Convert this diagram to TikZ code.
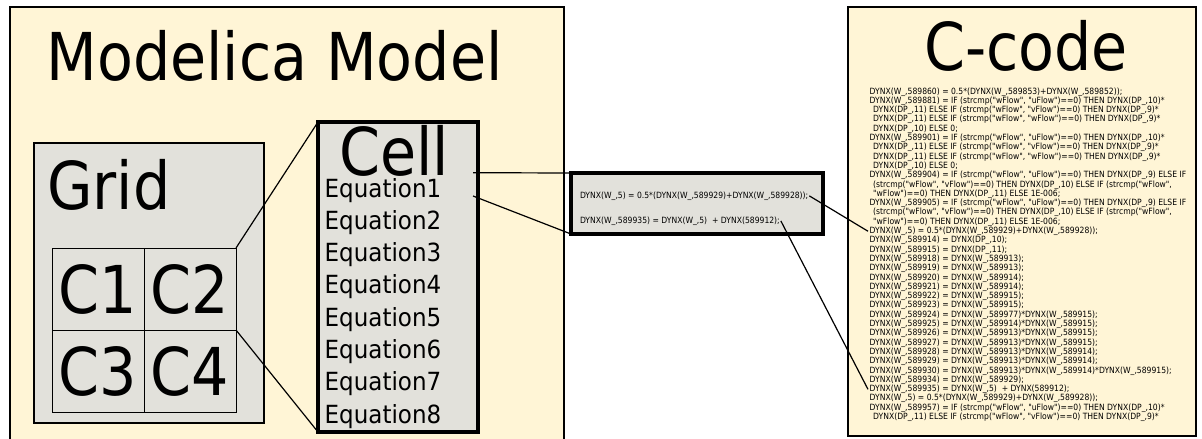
\documentclass[tikz,border=0pt]{standalone}
\usepackage{fontspec}
\setmainfont{DejaVu Sans}[FakeStretch=0.89]
\newfontfamily\eqfont{DejaVu Sans}[FakeStretch=0.92]
\newfontfamily\codefont{DejaVu Sans}[FakeStretch=0.89]
\definecolor{cream}{RGB}{255,245,214}
\definecolor{panelgray}{RGB}{226,225,219}
\tikzset{
  panel/.style={draw=black, fill=cream, line width=2pt, anchor=north west, inner sep=0pt, outer sep=0pt},
  graybox/.style={draw=black, fill=panelgray, anchor=north west, inner sep=0pt, outer sep=0pt},
  gridcell/.style={draw=black, line width=0.9pt, minimum width=92pt, minimum height=82pt,
    inner sep=0pt, outer sep=0pt, anchor=north west, font=\fontsize{66}{66}\selectfont},
  bigtext/.style={font=\fontsize{66}{66}\selectfont, inner sep=0pt},
  eqtext/.style={font=\eqfont\fontsize{25}{25}\selectfont, inner sep=0pt, anchor=base west},
  snippettext/.style={font=\codefont\fontsize{8.6}{8.6}\selectfont, inner sep=0.8pt, anchor=base west},
  codetext/.style={font=\codefont\fontsize{8.6}{8.6}\selectfont, inner sep=1.5pt, anchor=base west},
  link/.style={draw=black, line width=1.2pt},
}
% one line of generated code: #1 = line number, #2 = indent, #3 = text
\newcommand\codeline[3]{%
  \node[codetext] (r#1) at ({868+#2},{94+9.3*(#1-1)}) {#3};}
\begin{document}
\begin{tikzpicture}[x=1pt,y=-1pt]
\clip (0,0) rectangle (1202,439);

% ---------------- Modelica model panel ----------------
\node[panel, minimum width=554pt, minimum height=445pt] (model) at (10,7) {};
\node[bigtext, anchor=base] (modeltitle) at (274.5,80) {Modelica Model};

\node[graybox, line width=2pt, minimum width=230pt, minimum height=280pt] (grid) at (34.4,143) {};
\node[bigtext, anchor=base west] (gridtitle) at (47,209) {Grid};

\node[gridcell] (c1) at (52,248) {C1};
\node[gridcell] (c2) at (c1.north east) {C2};
\node[gridcell] (c3) at (c1.south west) {C3};
\node[gridcell] (c4) at (c3.north east) {C4};

\node[graybox, line width=4pt, minimum width=160pt, minimum height=310pt] (cell) at (318,122) {};
\node[bigtext, anchor=base] (celltitle) at (394,175) {Cell};
\foreach \k in {1,...,8}
  \node[eqtext] (eq\k) at (324.5,{197+32.3*(\k-1)}) {Equation\k};

% zoom lines from the grid to the cell
\draw[link] (c2.north east) -- (cell.north west);
\draw[link] (c4.north east) -- (cell.south west);

% ---------------- C-code panel ----------------
\node[panel, line width=2.5pt, minimum width=348pt, minimum height=429pt] (ccode) at (848,7) {};
\node[bigtext, anchor=base] (ccodetitle) at (1026,70) {C-code};

\codeline{1}{0}{DYNX(W\_,589860) = 0.5*(DYNX(W\_,589853)+DYNX(W\_,589852));}
\codeline{2}{0}{DYNX(W\_,589881) = IF (strcmp("wFlow", "uFlow")==0) THEN DYNX(DP\_,10)*}
\codeline{3}{3.5}{DYNX(DP\_,11) ELSE IF (strcmp("wFlow", "vFlow")==0) THEN DYNX(DP\_,9)*}
\codeline{4}{3.5}{DYNX(DP\_,11) ELSE IF (strcmp("wFlow", "wFlow")==0) THEN DYNX(DP\_,9)*}
\codeline{5}{3.5}{DYNX(DP\_,10) ELSE 0;}
\codeline{6}{0}{DYNX(W\_,589901) = IF (strcmp("wFlow", "uFlow")==0) THEN DYNX(DP\_,10)*}
\codeline{7}{3.5}{DYNX(DP\_,11) ELSE IF (strcmp("wFlow", "vFlow")==0) THEN DYNX(DP\_,9)*}
\codeline{8}{3.5}{DYNX(DP\_,11) ELSE IF (strcmp("wFlow", "wFlow")==0) THEN DYNX(DP\_,9)*}
\codeline{9}{3.5}{DYNX(DP\_,10) ELSE 0;}
\codeline{10}{0}{DYNX(W\_,589904) = IF (strcmp("wFlow", "uFlow")==0) THEN DYNX(DP\_,9) ELSE IF}
\codeline{11}{3.5}{(strcmp("wFlow", "vFlow")==0) THEN DYNX(DP\_,10) ELSE IF (strcmp("wFlow",}
\codeline{12}{3.5}{"wFlow")==0) THEN DYNX(DP\_,11) ELSE 1E-006;}
\codeline{13}{0}{DYNX(W\_,589905) = IF (strcmp("wFlow", "uFlow")==0) THEN DYNX(DP\_,9) ELSE IF}
\codeline{14}{3.5}{(strcmp("wFlow", "vFlow")==0) THEN DYNX(DP\_,10) ELSE IF (strcmp("wFlow",}
\codeline{15}{3.5}{"wFlow")==0) THEN DYNX(DP\_,11) ELSE 1E-006;}
\codeline{16}{0}{DYNX(W\_,5) = 0.5*(DYNX(W\_,589929)+DYNX(W\_,589928));}
\codeline{17}{0}{DYNX(W\_,589914) = DYNX(DP\_,10);}
\codeline{18}{0}{DYNX(W\_,589915) = DYNX(DP\_,11);}
\codeline{19}{0}{DYNX(W\_,589918) = DYNX(W\_,589913);}
\codeline{20}{0}{DYNX(W\_,589919) = DYNX(W\_,589913);}
\codeline{21}{0}{DYNX(W\_,589920) = DYNX(W\_,589914);}
\codeline{22}{0}{DYNX(W\_,589921) = DYNX(W\_,589914);}
\codeline{23}{0}{DYNX(W\_,589922) = DYNX(W\_,589915);}
\codeline{24}{0}{DYNX(W\_,589923) = DYNX(W\_,589915);}
\codeline{25}{0}{DYNX(W\_,589924) = DYNX(W\_,589977)*DYNX(W\_,589915);}
\codeline{26}{0}{DYNX(W\_,589925) = DYNX(W\_,589914)*DYNX(W\_,589915);}
\codeline{27}{0}{DYNX(W\_,589926) = DYNX(W\_,589913)*DYNX(W\_,589915);}
\codeline{28}{0}{DYNX(W\_,589927) = DYNX(W\_,589913)*DYNX(W\_,589915);}
\codeline{29}{0}{DYNX(W\_,589928) = DYNX(W\_,589913)*DYNX(W\_,589914);}
\codeline{30}{0}{DYNX(W\_,589929) = DYNX(W\_,589913)*DYNX(W\_,589914);}
\codeline{31}{0}{DYNX(W\_,589930) = DYNX(W\_,589913)*DYNX(W\_,589914)*DYNX(W\_,589915);}
\codeline{32}{0}{DYNX(W\_,589934) = DYNX(W\_,589929);}
\codeline{33}{0}{DYNX(W\_,589935) = DYNX(W\_,5)\ \ + DYNX(589912);}
\codeline{34}{0}{DYNX(W\_,5) = 0.5*(DYNX(W\_,589929)+DYNX(W\_,589928));}
\codeline{35}{0}{DYNX(W\_,589957) = IF (strcmp("wFlow", "uFlow")==0) THEN DYNX(DP\_,10)*}
\codeline{36}{3.5}{DYNX(DP\_,11) ELSE IF (strcmp("wFlow", "vFlow")==0) THEN DYNX(DP\_,9)*}

% ---------------- equation snippet in between ----------------
\node[graybox, line width=4pt, minimum width=252pt, minimum height=61pt] (snip) at (571,173) {};
\node[snippettext] (s1) at (579,198.1) {DYNX(W\_,5) = 0.5*(DYNX(W\_,589929)+DYNX(W\_,589928));};
\node[snippettext] (s2) at (579,223.1) {DYNX(W\_,589935) = DYNX(W\_,5)\ \ + DYNX(589912);};

\coordinate (eqtop) at (473,172.7);
\coordinate (eqbot) at (473,196);
\draw[link] (eqtop) -- (snip.north west);
\draw[link] (eqbot) -- (snip.south west);

\draw[link] (s1.east) -- (r16.west);
\draw[link] (s2.east) -- (r33.west);
\end{tikzpicture}
\end{document}
